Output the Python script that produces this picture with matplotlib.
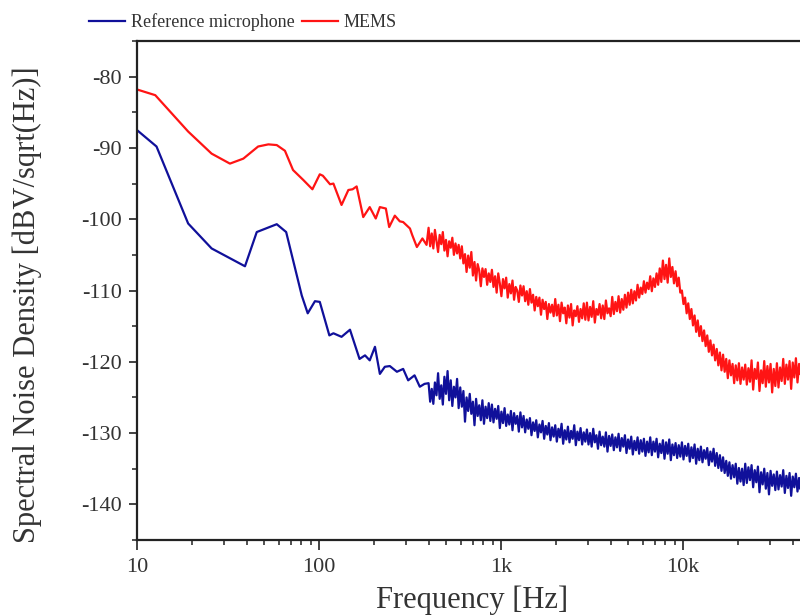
import numpy as np
import matplotlib
matplotlib.use("Agg")
import matplotlib.pyplot as plt
from matplotlib.ticker import FixedLocator, FixedFormatter, MultipleLocator

plt.rcParams['font.family'] = ['Liberation Serif', 'DejaVu Serif']
plt.rcParams['axes.unicode_minus'] = False

# low-frequency part, read point by point (Hz, dB)
ref_f_low = [10, 12.8, 19.1, 25.7, 39.2, 45.5, 58.6, 66, 80.4, 86.7, 95, 101,
             114, 120, 133, 148, 167, 179, 190, 203, 216, 230, 245, 268, 290,
             309, 335, 358, 380]
ref_v_low = [-87.5, -89.8, -100.6, -104.1, -106.6, -101.8, -100.7, -101.8, -110.7,
             -113.2, -111.5, -111.6, -116.3, -116.0, -116.5, -115.5, -119.6, -119.1,
             -119.8, -117.9, -121.7, -120.7, -120.6, -121.4, -121.0, -122.6, -121.9,
             -123.5, -123.1]

mems_f_low = [10, 12.6, 19.1, 25.7, 32.4, 38.4, 46.3, 52.7, 58.6, 65, 72, 82, 92,
              101, 105, 115, 120, 133, 145, 153, 161, 175, 190, 205, 216, 233, 243,
              261, 278, 290, 316, 325, 345, 370, 390]
mems_v_low = [-81.8, -82.6, -87.7, -90.8, -92.2, -91.5, -89.8, -89.5, -89.6, -90.4,
              -93.1, -94.5, -95.8, -93.7, -93.9, -95.1, -95.0, -98.0, -95.9, -95.8,
              -95.4, -99.7, -98.3, -99.9, -98.3, -98.5, -101.1, -99.5, -100.3, -100.4,
              -101.3, -102.2, -103.9, -102.7, -103.6]

# dense noisy part, 400 Hz .. 48 kHz on a log grid
f_hi_start, f_hi_stop = 400, 48000

mems_v_hi = [
    -101.2, -103.8, -102.0, -104.1, -101.5, -103.0, -104.6, -102.2, -103.5, -101.8,
    -104.4, -102.9, -105.2, -103.1, -104.0, -102.6, -105.0, -103.4, -104.8, -103.6,
    -105.5, -103.8, -106.2, -104.9, -107.4, -105.1, -106.8, -104.6, -107.9, -106.0,
    -108.6, -106.3, -107.2, -109.4, -106.9, -108.1, -107.0, -109.2, -107.6, -108.8,
    -107.1, -109.5, -108.0, -110.3, -107.6, -109.0, -110.8, -108.4, -109.7, -108.2,
    -111.0, -109.1, -110.4, -108.6, -111.3, -109.5, -110.0, -111.6, -109.3, -110.7,
    -109.4, -111.5, -110.1, -112.0, -109.8, -111.7, -110.6, -112.8, -110.9, -112.2,
    -111.0, -113.4, -111.3, -112.6, -111.6, -114.0, -111.9, -113.1, -112.0, -113.6,
    -111.2, -113.5, -112.0, -114.3, -111.7, -113.2, -112.4, -114.6, -112.1, -113.8,
    -111.9, -114.9, -112.8, -113.6, -112.2, -114.4, -112.6, -113.9, -111.8, -114.1,
    -111.7, -114.2, -112.3, -113.7, -111.5, -114.5, -112.6, -113.4, -111.9, -113.9,
    -112.1, -114.0, -111.4, -113.2, -112.5, -113.6, -110.9, -113.3, -111.6, -112.9,
    -110.8, -113.1, -111.2, -112.7, -110.6, -112.4, -110.3, -112.0, -109.9, -111.8,
    -110.1, -111.4, -109.2, -111.0, -109.6, -110.5, -108.7, -110.3, -108.9, -109.8,
    -108.0, -110.1, -108.3, -109.5, -107.6, -109.2, -106.9, -108.8, -105.8, -108.4,
    -106.4, -108.9, -105.5, -108.1, -106.7, -109.0, -107.3, -109.4, -108.2, -110.3,
    -110.0, -111.9, -111.0, -113.2, -111.8, -114.0, -112.6, -114.9, -113.5, -115.8,
    -114.2, -116.4, -115.0, -117.1, -115.6, -117.8, -116.3, -118.6, -117.0, -119.1,
    -117.6, -119.8, -118.2, -120.5, -118.7, -121.2, -119.0, -121.4, -119.6, -122.3,
    -119.8, -121.9, -120.3, -123.0, -120.5, -122.6, -120.2, -123.1, -120.8, -122.5,
    -120.4, -123.2, -120.9, -122.8, -119.8, -123.9, -121.0, -122.4, -120.1, -124.1,
    -121.2, -123.0, -119.9, -123.5, -120.6, -122.9, -120.3, -124.3, -121.0, -123.4,
    -120.2, -123.6, -120.8, -122.7, -119.6, -123.1, -120.4, -122.5, -119.9, -123.8,
    -120.1, -122.2, -119.5, -122.9, -120.3, -121.8, -119.4, -122.6, -119.8, -122.0,
]

ref_v_hi = [
    -123.0, -125.6, -123.8, -125.9, -122.9, -124.7, -121.6, -125.2, -123.3, -126.0,
    -122.1, -124.5, -121.3, -125.4, -122.6, -126.2, -123.5, -125.0, -122.4, -126.5,
    -123.6, -126.3, -124.1, -128.4, -125.0, -126.9, -124.5, -127.3, -125.6, -128.9,
    -125.2, -127.6, -126.1, -128.2, -125.4, -128.7, -126.3, -127.9, -125.8, -128.3,
    -126.0, -128.5, -126.6, -128.0, -126.2, -129.3, -127.0, -128.6, -126.5, -129.0,
    -127.4, -128.8, -126.9, -129.6, -127.2, -128.7, -127.6, -129.8, -127.1, -129.2,
    -127.6, -129.9, -128.1, -129.4, -127.9, -130.3, -128.5, -129.7, -128.2, -130.6,
    -128.8, -129.9, -128.3, -130.8, -129.0, -130.2, -128.6, -131.0, -129.2, -130.5,
    -128.9, -131.2, -129.4, -130.6, -128.7, -131.5, -129.6, -130.9, -129.1, -131.3,
    -129.7, -130.8, -128.9, -131.7, -129.8, -131.0, -129.3, -131.6, -129.9, -131.2,
    -129.5, -131.6, -130.0, -131.9, -129.4, -131.3, -130.3, -132.2, -129.8, -131.7,
    -130.5, -131.9, -129.9, -132.6, -130.4, -131.8, -130.2, -132.4, -130.6, -132.0,
    -130.1, -132.5, -130.7, -131.9, -130.3, -132.8, -130.9, -132.2, -130.5, -133.0,
    -131.1, -132.4, -130.6, -132.9, -131.0, -132.6, -130.8, -133.2, -131.2, -132.7,
    -130.6, -133.1, -131.2, -132.6, -130.8, -133.4, -131.5, -132.8, -131.0, -133.6,
    -131.3, -132.9, -130.9, -133.8, -131.6, -133.1, -131.4, -133.5, -131.7, -133.3,
    -131.3, -133.7, -131.8, -133.2, -131.5, -134.0, -132.0, -133.5, -131.6, -134.3,
    -132.2, -133.8, -131.9, -134.1, -132.4, -133.6, -132.1, -134.5, -132.6, -134.0,
    -132.2, -134.6, -132.8, -134.9, -133.1, -135.3, -133.4, -135.6, -133.9, -136.0,
    -134.1, -136.4, -134.5, -136.2, -134.3, -137.1, -134.9, -136.8, -135.0, -137.3,
    -134.3, -137.0, -134.8, -136.6, -134.5, -137.6, -135.2, -136.9, -134.7, -138.3,
    -135.5, -137.2, -135.0, -137.8, -135.6, -138.6, -135.3, -137.4, -135.8, -138.0,
    -135.4, -137.9, -135.9, -137.5, -135.2, -138.4, -136.0, -137.7, -135.6, -138.8,
    -136.1, -137.6, -135.7, -138.2, -136.3, -137.9, -135.8, -138.5, -136.2, -137.8,
]

x_ticks = [10, 100, 1000, 10000]
x_labels = ["10", "100", "1k", "10k"]

f_hi = np.geomspace(f_hi_start, f_hi_stop, len(mems_v_hi))
ref_f = np.concatenate([ref_f_low, f_hi])
ref_v = np.concatenate([ref_v_low, ref_v_hi])
mems_f = np.concatenate([mems_f_low, f_hi])
mems_v = np.concatenate([mems_v_low, mems_v_hi])

fig = plt.figure(figsize=(8, 6.16), dpi=100)
# right part of the axes runs past the figure edge (cropped like the source)
ax = fig.add_axes([137 / 800, 76 / 616, 728 / 800, 499 / 616])

l1, = ax.plot(ref_f, ref_v, color="#10109a", lw=1.6, label="Reference microphone")
l2, = ax.plot(mems_f, mems_v, color="#ff1414", lw=1.6, label="MEMS")

ax.set_xscale("log")
ax.set_xlim(10, 1e5)
ax.set_ylim(-145, -75)

ax.xaxis.set_major_locator(FixedLocator(x_ticks))
ax.xaxis.set_major_formatter(FixedFormatter(x_labels))
ax.yaxis.set_major_locator(FixedLocator([-80, -90, -100, -110, -120, -130, -140]))
ax.yaxis.set_minor_locator(MultipleLocator(5))

for s in ax.spines.values():
    s.set_linewidth(1.6)
    s.set_color("#222222")

ax.tick_params(axis="both", which="major", direction="out", length=6, width=1.2,
               labelsize=16, colors="#222222", labelcolor="#333333")
ax.tick_params(axis="x", which="major", length=7, pad=6)
ax.tick_params(axis="y", which="major", pad=5)
ax.tick_params(axis="both", which="minor", direction="out", length=3.5, width=1.1,
               colors="#222222")
ax.tick_params(top=False, right=False, which="both")

ax.set_xlabel("Frequency [Hz]", fontsize=22, color="#333333")
ax.xaxis.set_label_coords(0.46, -0.092)
ax.set_ylabel("Spectral Noise Density [dBV/sqrt(Hz)]", fontsize=22, color="#333333")
ax.yaxis.set_label_coords(-0.13, 0.472)

fig.legend(handles=[l1, l2], loc="center left", bbox_to_anchor=(89 / 800, 1 - 22 / 616),
           ncol=2, frameon=False, fontsize=13, borderpad=0, borderaxespad=0,
           handlelength=2.0, handletextpad=0.3, columnspacing=0.4,
           labelcolor="#333333")

fig.savefig("out.png", dpi=100)
